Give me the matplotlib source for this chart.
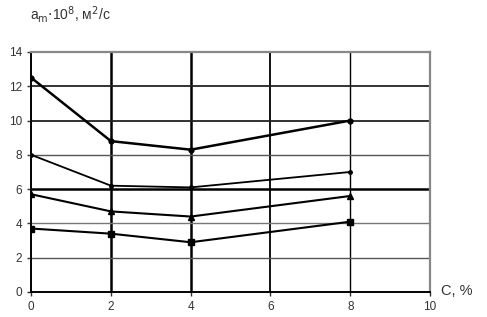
import matplotlib.pyplot as plt

plt.rcParams['font.family'] = ['Liberation Sans', 'DejaVu Sans']

conc = [0, 2, 4, 8]
s_circle = [12.5, 8.8, 8.3, 10.0]
s_dot = [8.0, 6.2, 6.1, 7.0]
s_tri = [5.7, 4.7, 4.4, 5.6]
s_square = [3.7, 3.4, 2.9, 4.1]

fig = plt.figure(figsize=(4.87, 3.17), dpi=100)
ax = fig.add_axes([0.064, 0.079, 0.819, 0.757])

ax.set_xlim(0, 10)
ax.set_ylim(0, 14)
ax.set_xticks(range(0, 11, 2))
ax.set_yticks(range(0, 15, 2))

# grid lines of mixed weight, as in the scanned original
for x, lw, c in [(2, 1.8, 'black'), (4, 1.8, 'black'), (6, 1.3, 'black'), (8, 1.0, 'black')]:
    ax.axvline(x, color=c, lw=lw, zorder=1)
for y, lw, c in [(2, 1.0, '#555555'), (4, 1.0, '#777777'), (6, 1.8, 'black'),
                 (8, 1.0, '#555555'), (10, 1.3, '#222222'), (12, 1.3, '#222222')]:
    ax.axhline(y, color=c, lw=lw, zorder=1)

ax.plot(conc, s_circle, color='black', lw=1.8, marker='o', ms=3.5, zorder=3)
ax.plot(conc, s_dot, color='black', lw=1.3, marker='o', ms=2.5, zorder=3)
ax.plot(conc, s_tri, color='black', lw=1.5, marker='^', ms=4, zorder=3)
ax.plot(conc, s_square, color='black', lw=1.5, marker='s', ms=4, zorder=3)

for side in ['top', 'right']:
    ax.spines[side].set_color('#888888')
    ax.spines[side].set_linewidth(1.6)
ax.spines['left'].set_linewidth(1.4)
ax.spines['bottom'].set_linewidth(1.4)
ax.tick_params(labelsize=8.5, length=3, width=1, colors='#333333')

fig.text(0.062, 0.955, r'a$_{\mathrm{m}}$$\cdot$10$^{8}$, м$^{2}$/с', fontsize=10,
         color='#333333', va='center')
fig.text(0.905, 0.082, 'С, %', fontsize=10.5, color='#333333', va='center')

fig.savefig('out.png', dpi=100)
